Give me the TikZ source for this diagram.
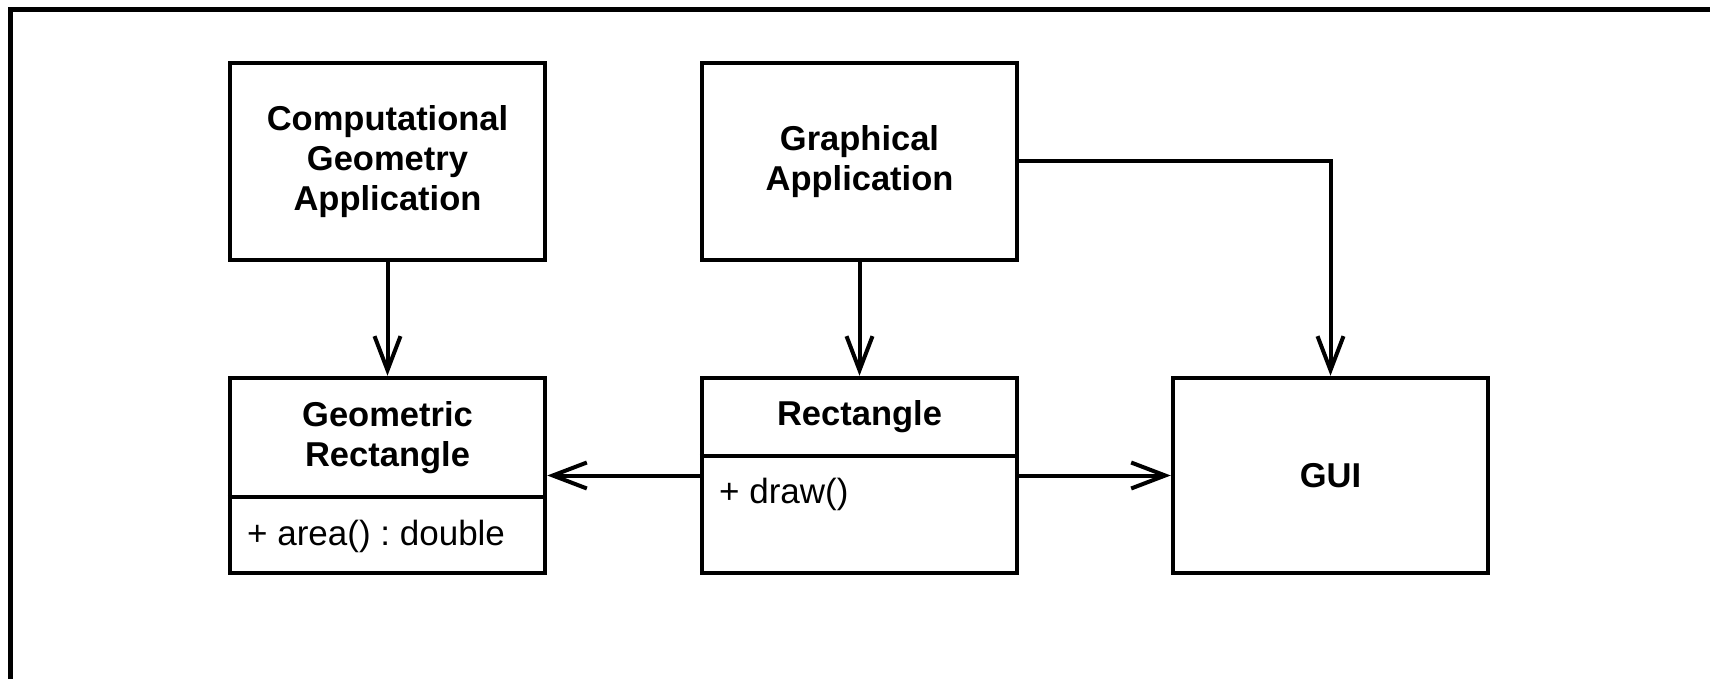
\documentclass[tikz,border=0pt]{standalone}
\usepackage{fontspec}
\setmainfont{Liberation Sans}
\frenchspacing
\usetikzlibrary{arrows.meta}
\begin{document}
\begin{tikzpicture}[x=1pt,y=-1pt,
  box/.style={draw, line width=4.5pt, minimum width=315pt, minimum height=197pt, inner sep=0pt, anchor=center},
  ttl/.style={font=\fontsize{34.5}{40}\selectfont\bfseries, align=center, inner sep=0pt},
  op/.style={font=\fontsize{35}{40}\selectfont, anchor=west, inner sep=0pt},
  arr/.style={line width=4pt, -{Straight Barb[length=34pt,width=26pt]}},
  frame/.style={line width=5pt}]
\useasboundingbox (0,0) rectangle (1710,679);
% frame
\coordinate (f1) at (10,690);
\coordinate (f2) at (10,10);
\coordinate (f3) at (1720,10);
\draw[frame] (f1) -- (f2) -- (f3);
% boxes
\node[box] (cga) at (387.5,161.5) {};
\node[ttl] (cgat) at (cga.center) {Computational\\Geometry\\Application};
\node[box] (ga) at (859.5,161.5) {};
\node[ttl] (gat) at (ga.center) {Graphical\\Application};
\node[box, minimum height=195pt] (gr) at (387.5,475.5) {};
\node[ttl] (grt) at (387.5,437.5) {Geometric\\Rectangle};
\coordinate (grdiv) at (0,497);
\draw[line width=4.5pt] (gr.west |- grdiv) -- (gr.east |- grdiv);
\node[op] (gro) at (247,536) {+ area() : double};
\node[box, minimum height=195pt] (rect) at (859.5,475.5) {};
\node[ttl] (rectt) at (859.5,417) {Rectangle};
\coordinate (rdiv) at (0,456);
\draw[line width=4.5pt] (rect.west |- rdiv) -- (rect.east |- rdiv);
\node[op] (recto) at (719,494) {+ draw()};
\node[box, minimum height=195pt] (gui) at (1330.5,475.5) {};
\node[ttl] (guit) at (gui.center) {GUI};
% connectors
\draw[arr] (cga) -- (gr);
\draw[arr] (ga) -- (rect);
\draw[arr] (ga.east) -| (gui.north);
\draw[arr] (rect.west) -- (gr.east);
\draw[arr] (rect.east) -- (gui.west);
\end{tikzpicture}
\end{document}
